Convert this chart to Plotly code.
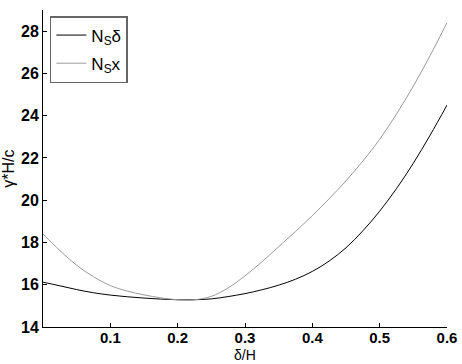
import plotly.graph_objects as go

x_vals = [0.0, 0.025, 0.05, 0.075, 0.10, 0.125, 0.15, 0.175, 0.20, 0.225, 0.25,
          0.275, 0.30, 0.325, 0.35, 0.375, 0.40, 0.425, 0.45, 0.475, 0.50,
          0.525, 0.55, 0.575, 0.60]
ns_delta = [16.12, 15.95, 15.77, 15.62, 15.51, 15.43, 15.37, 15.32, 15.29, 15.29, 15.33,
            15.44, 15.58, 15.76, 15.98, 16.26, 16.63, 17.12, 17.75, 18.55, 19.48,
            20.55, 21.75, 23.08, 24.5]
ns_x = [18.4, 17.62, 16.92, 16.38, 15.96, 15.7, 15.52, 15.38, 15.29, 15.29, 15.45,
        15.85, 16.42, 17.08, 17.8, 18.52, 19.27, 20.07, 20.92, 21.85, 22.88,
        24.08, 25.4, 26.85, 28.4]
x_ticks = [0.1, 0.2, 0.3, 0.4, 0.5, 0.6]
y_ticks = [14, 16, 18, 20, 22, 24, 26, 28]
x_title = "δ/H"
y_title = "γ*H/c"

FONT = "Liberation Sans, Arial, sans-serif"

fig = go.Figure()
fig.add_trace(go.Scatter(x=x_vals, y=ns_delta, mode="lines", name="N<sub>S</sub>δ",
                         line=dict(color="#000000", width=1, shape="spline"),
                         legendgroup="a"))
fig.add_trace(go.Scatter(x=x_vals, y=ns_x, mode="lines", name="N<sub>S</sub>x",
                         line=dict(color="#9a9a9a", width=1, shape="spline"),
                         legendgroup="b"))

fig.update_layout(
    width=462, height=364,
    margin=dict(l=43, r=15, t=10, b=37),
    paper_bgcolor="white", plot_bgcolor="white",
    font=dict(family=FONT, size=15, color="black"),
    showlegend=True,
    legend=dict(x=0.017, y=0.981, xanchor="left", yanchor="top",
                bordercolor="#666666", borderwidth=1.5, bgcolor="white",
                font=dict(size=17), tracegroupgap=3),
    xaxis=dict(range=[0, 0.6], tickvals=x_ticks, ticktext=[f"{v:.1f}" for v in x_ticks],
               ticks="inside", ticklen=4, tickcolor="black", showline=True,
               linecolor="black", linewidth=1, showgrid=False, zeroline=False,
               automargin=False, ticklabelstandoff=-3,
               tickfont=dict(size=15, weight="bold")),
    yaxis=dict(range=[14, 29], tickvals=y_ticks, ticks="inside", ticklen=4,
               tickcolor="black", showline=True, linecolor="black", linewidth=1,
               showgrid=False, zeroline=False, automargin=False,
               tickfont=dict(size=16, weight="bold")),
    annotations=[
        dict(text=x_title, xref="paper", yref="paper", x=0.5, y=-0.1167,
             xanchor="center", yanchor="bottom", showarrow=False, borderpad=0,
             font=dict(size=14)),
        dict(text=y_title, xref="paper", yref="paper", x=-0.086, y=0.5,
             xanchor="center", yanchor="middle", showarrow=False, textangle=-90,
             borderpad=0, font=dict(size=16)),
    ],
)

fig.write_html("out.html")
